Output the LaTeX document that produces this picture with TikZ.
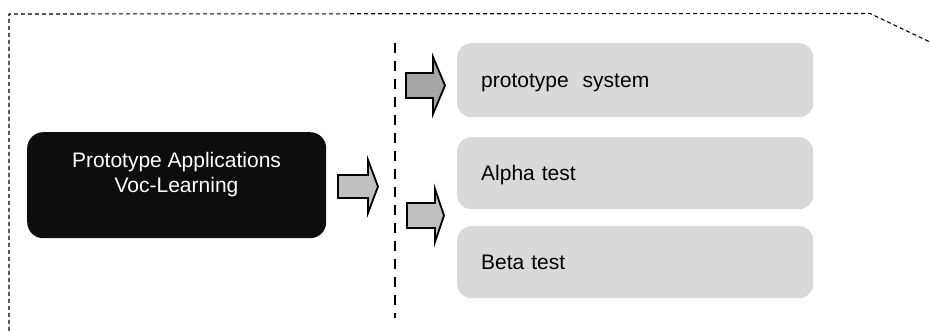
\documentclass[tikz,border=0pt]{standalone}
\usepackage{fontspec}
\setmainfont{Liberation Sans}
\definecolor{boxgray}{HTML}{D9D9D9}
\definecolor{arrowlight}{HTML}{C0C0C0}
\definecolor{arrowdark}{HTML}{A6A6A6}
\definecolor{appblack}{HTML}{0D0D0D}
\begin{document}
\begin{tikzpicture}[x=1pt,y=-1pt,
  stepbox/.style={draw=none, fill=boxgray, rounded corners=14pt, minimum width=356pt,
    minimum height=74pt, anchor=north west, inner xsep=24pt, inner ysep=0pt,
    text width=308pt, align=left, text height=15pt, text depth=0pt,
    font=\fontsize{21}{25}\selectfont},
  appbox/.style={fill=appblack, draw=none, rounded corners=16pt, minimum width=299pt,
    minimum height=106pt, anchor=north west},
  apptextstyle/.style={anchor=base, inner sep=0pt, text=white,
    font=\fontsize{21}{25.5}\selectfont},
  blockarrow/.style={draw=black, line width=1.8pt, line join=miter},
  outline/.style={dash pattern=on 4pt off 3pt, line width=1.1pt},
  divider/.style={dash pattern=on 10pt off 8pt, line width=2.8pt}]
\useasboundingbox (0,0) rectangle (930,331);

% outer dashed frame
\coordinate (fbl) at (9,331);
\coordinate (ftl) at (9,14);
\coordinate (ftr) at (870,13.5);
\coordinate (fend) at (930,42);
\draw[outline] (fbl) -- (ftl) -- (ftr) -- (fend);

% divider
\coordinate (dtop) at (395,43);
\coordinate (dbot) at (395,318);
\draw[divider] (dtop) -- (dbot);

% main box
\node[appbox] (app) at (27,132) {};
\node[apptextstyle] (apptext1) at (176.5,167.5) {Prototype Applications};
\node[apptextstyle] (apptext2) at (176.5,193) {Voc-Learning};

% result boxes
\node[stepbox] (proto) at (457,43) {prototype\ \ system};
\node[stepbox, minimum height=72pt] (alpha) at (457,137) {Alpha test};
\node[stepbox, minimum height=72pt] (beta) at (457,226) {Beta test};

% block arrows
\draw[blockarrow, fill=arrowlight] (338,175) -- (368,175) -- (368,160) -- (378,186.5)
  -- (368,213) -- (368,198) -- (338,198) -- cycle;
\draw[blockarrow, fill=arrowlight] (407,203) -- (435,203) -- (435,189) -- (444,215.5)
  -- (435,242) -- (435,228) -- (407,228) -- cycle;
\draw[blockarrow, fill=arrowdark] (406,73) -- (433,73) -- (433,57) -- (445,85.5)
  -- (433,114) -- (433,98) -- (406,98) -- cycle;
\end{tikzpicture}
\end{document}
